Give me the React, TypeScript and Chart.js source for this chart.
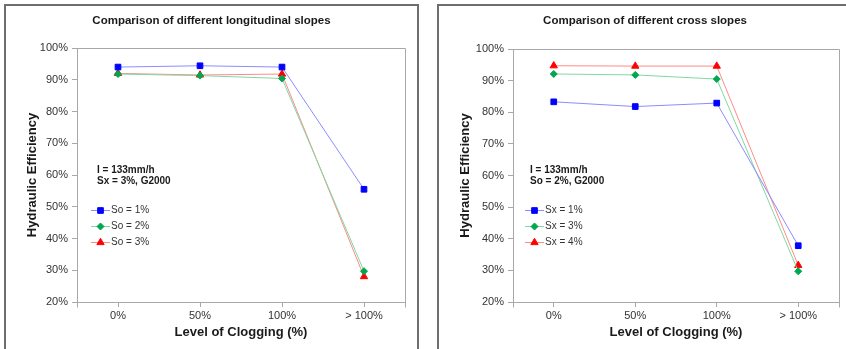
import React, { useEffect, useRef } from 'react';
import { Chart, registerables } from 'chart.js';
import { drawPoint } from 'chart.js/helpers';

Chart.register(...registerables);

const FAMILY = "'Liberation Sans', Arial, sans-serif";

const categories = ['0%', '50%', '100%', '> 100%'];
const yMin = 20;
const yMax = 100;
const yStep = 10;

const leftTitle = 'Comparison of different longitudinal slopes';
const leftLabels = ['So = 1%', 'So = 2%', 'So = 3%'];
const leftSo1 = [94.0, 94.4, 94.0, 55.5];
const leftSo2 = [91.8, 91.3, 90.4, 29.7];
const leftSo3 = [92.0, 91.5, 91.8, 28.0];
const leftNotes = ['I = 133mm/h', 'Sx = 3%, G2000'];

const rightTitle = 'Comparison of different cross slopes';
const rightLabels = ['Sx = 1%', 'Sx = 3%', 'Sx = 4%'];
const rightSx1 = [83.3, 81.8, 82.9, 37.8];
const rightSx3 = [92.1, 91.8, 90.5, 29.7];
const rightSx4 = [94.7, 94.6, 94.6, 31.6];
const rightNotes = ['I = 133mm/h', 'So = 2%, G2000'];

const xTitle = 'Level of Clogging (%)';
const yTitle = 'Hydraulic Efficiency';

const seriesStyles = [
  { line: '#8c8cff', point: '#0000ff', style: 'rect', radius: 4 },
  { line: '#7fd9a0', point: '#00a650', style: 'rectRot', radius: 3.5 },
  { line: '#ff8a8a', point: '#ff0000', style: 'triangle', radius: 4.2 },
];

type Geo = {
  width: number;
  height: number;
  padLeft: number;
  plotLeft: number;
  plotRight: number;
  plotTop: number;
  yTitleX: number;
  notesX: number;
  legendX: number;
  legendTextX: number;
  panelLeft: number;
  panelRight: number | null;
};

function decorPlugin(geo: Geo, notes: string[]) {
  return {
    id: 'decor',
    beforeDatasetsDraw(chart: any) {
      const { ctx, chartArea } = chart;
      ctx.save();
      ctx.strokeStyle = '#a8a8a8';
      ctx.lineWidth = 1;
      ctx.beginPath();
      ctx.moveTo(Math.round(chartArea.left) + 0.5, Math.round(chartArea.top) + 0.5);
      ctx.lineTo(Math.round(chartArea.right) + 0.5, Math.round(chartArea.top) + 0.5);
      ctx.lineTo(Math.round(chartArea.right) + 0.5, Math.round(chartArea.bottom) + 0.5);
      ctx.stroke();
      ctx.beginPath();
      const yb = Math.round(chartArea.bottom) + 0.5;
      ctx.moveTo(Math.round(chartArea.left) + 0.5, yb);
      ctx.lineTo(Math.round(chartArea.left) + 0.5, yb + 5);
      ctx.moveTo(Math.round(chartArea.right) + 0.5, yb);
      ctx.lineTo(Math.round(chartArea.right) + 0.5, yb + 5);
      ctx.stroke();
      ctx.restore();
    },
    afterDraw(chart: any) {
      const { ctx } = chart;
      ctx.save();
      ctx.strokeStyle = '#6e6e6e';
      ctx.lineWidth = 2;
      ctx.beginPath();
      ctx.moveTo(geo.panelLeft, geo.height + 2);
      ctx.lineTo(geo.panelLeft, 5);
      if (geo.panelRight !== null) {
        ctx.lineTo(geo.panelRight, 5);
        ctx.lineTo(geo.panelRight, geo.height + 2);
      } else {
        ctx.lineTo(geo.width + 2, 5);
      }
      ctx.stroke();
      ctx.fillStyle = '#1a1a1a';
      ctx.font = `bold 10px ${FAMILY}`;
      ctx.textBaseline = 'middle';
      ctx.textAlign = 'left';
      ctx.fillText(notes[0], geo.notesX, 170);
      ctx.fillText(notes[1], geo.notesX, 181);
      const rows = [210, 226, 242];
      chart.data.datasets.forEach((ds: any, i: number) => {
        const y = rows[i];
        ctx.strokeStyle = ds.borderColor;
        ctx.lineWidth = 1;
        ctx.beginPath();
        ctx.moveTo(geo.legendX, y + 0.5);
        ctx.lineTo(geo.legendX + 19, y + 0.5);
        ctx.stroke();
        ctx.fillStyle = ds.pointBackgroundColor;
        ctx.strokeStyle = ds.pointBorderColor;
        drawPoint(ctx, { pointStyle: ds.pointStyle, radius: ds.pointRadius, rotation: 0, borderWidth: 1 } as any, geo.legendX + 9.5, y + 0.5);
        ctx.fillStyle = '#333333';
        ctx.font = `10px ${FAMILY}`;
        ctx.fillText(ds.label, geo.legendTextX, y + 0.5);
      });
      ctx.restore();
    },
  };
}

function makeConfig(title: string, labels: string[], series: number[][], notes: string[], geo: Geo): any {
  return {
    type: 'line',
    data: {
      labels: categories,
      datasets: series.map((vals, i) => ({
        label: labels[i],
        data: vals,
        borderColor: seriesStyles[i].line,
        borderWidth: 1,
        pointStyle: seriesStyles[i].style,
        pointRadius: seriesStyles[i].radius,
        pointBackgroundColor: seriesStyles[i].point,
        pointBorderColor: seriesStyles[i].point,
        pointBorderWidth: 1,
        tension: 0,
        fill: false,
      })),
    },
    options: {
      animation: false,
      responsive: false,
      maintainAspectRatio: false,
      layout: { padding: { left: geo.padLeft, top: 0, right: geo.width - geo.plotRight, bottom: 0 } },
      plugins: {
        legend: { display: false },
        tooltip: { enabled: false },
        title: {
          display: true,
          text: title,
          color: '#1a1a1a',
          font: { family: FAMILY, size: 11.5, weight: 'bold' },
          padding: { top: 14, bottom: geo.plotTop - 14 - 13.8 },
        },
      },
      scales: {
        x: {
          type: 'category',
          offset: true,
          afterFit: (s: any) => { s.height = geo.height - 302; },
          grid: { drawOnChartArea: false, drawTicks: true, tickLength: 5, color: '#a8a8a8', offset: false },
          border: { display: true, color: '#a8a8a8' },
          ticks: { color: '#333333', font: { family: FAMILY, size: 11 }, padding: 2, maxRotation: 0 },
          title: {
            display: true,
            text: xTitle,
            color: '#1a1a1a',
            font: { family: FAMILY, size: 13, weight: 'bold' },
            padding: { top: 0, bottom: geo.height - 332 - 7.8 },
          },
        },
        y: {
          min: yMin,
          max: yMax,
          afterFit: (s: any) => { s.width = geo.plotLeft - geo.padLeft; },
          grid: { drawOnChartArea: false, drawTicks: true, tickLength: 5, color: '#a8a8a8' },
          border: { display: true, color: '#a8a8a8' },
          ticks: {
            stepSize: yStep,
            color: '#333333',
            font: { family: FAMILY, size: 11 },
            padding: 4,
            callback: (v: any) => `${v}%`,
          },
          title: {
            display: true,
            text: yTitle,
            color: '#1a1a1a',
            font: { family: FAMILY, size: 13, weight: 'bold' },
            padding: { top: geo.yTitleX - geo.padLeft - 7.8, bottom: 0 },
          },
        },
      },
    },
    plugins: [decorPlugin(geo, notes)],
  };
}

const leftGeo: Geo = {
  width: 423, height: 349, padLeft: 18, plotLeft: 77, plotRight: 405, plotTop: 48, yTitleX: 32,
  notesX: 97, legendX: 91, legendTextX: 111, panelLeft: 5, panelRight: 418,
};
const rightGeo: Geo = {
  width: 418, height: 349, padLeft: 15, plotLeft: 77, plotRight: 403, plotTop: 49, yTitleX: 29,
  notesX: 94, legendX: 89, legendTextX: 109, panelLeft: 2, panelRight: null,
};

function ChartCanvas({ config, left, width }: { config: any; left: number; width: number }) {
  const ref = useRef<HTMLCanvasElement | null>(null);
  useEffect(() => {
    if (!ref.current) return;
    const chart = new Chart(ref.current, config);
    return () => chart.destroy();
  }, []);
  return (
    <canvas
      ref={ref}
      width={width}
      height={349}
      style={{ position: 'absolute', left, top: 0, width, height: 349, display: 'block' }}
    />
  );
}

export default function App() {
  const leftCfg = makeConfig(leftTitle, leftLabels, [leftSo1, leftSo2, leftSo3], leftNotes, leftGeo);
  const rightCfg = makeConfig(rightTitle, rightLabels, [rightSx1, rightSx3, rightSx4], rightNotes, rightGeo);
  return (
    <div style={{ position: 'absolute', left: 0, top: 0, width: 846, height: 349, overflow: 'hidden', background: '#ffffff' }}>
      <ChartCanvas config={leftCfg} left={0} width={423} />
      <ChartCanvas config={rightCfg} left={436} width={418} />
    </div>
  );
}
